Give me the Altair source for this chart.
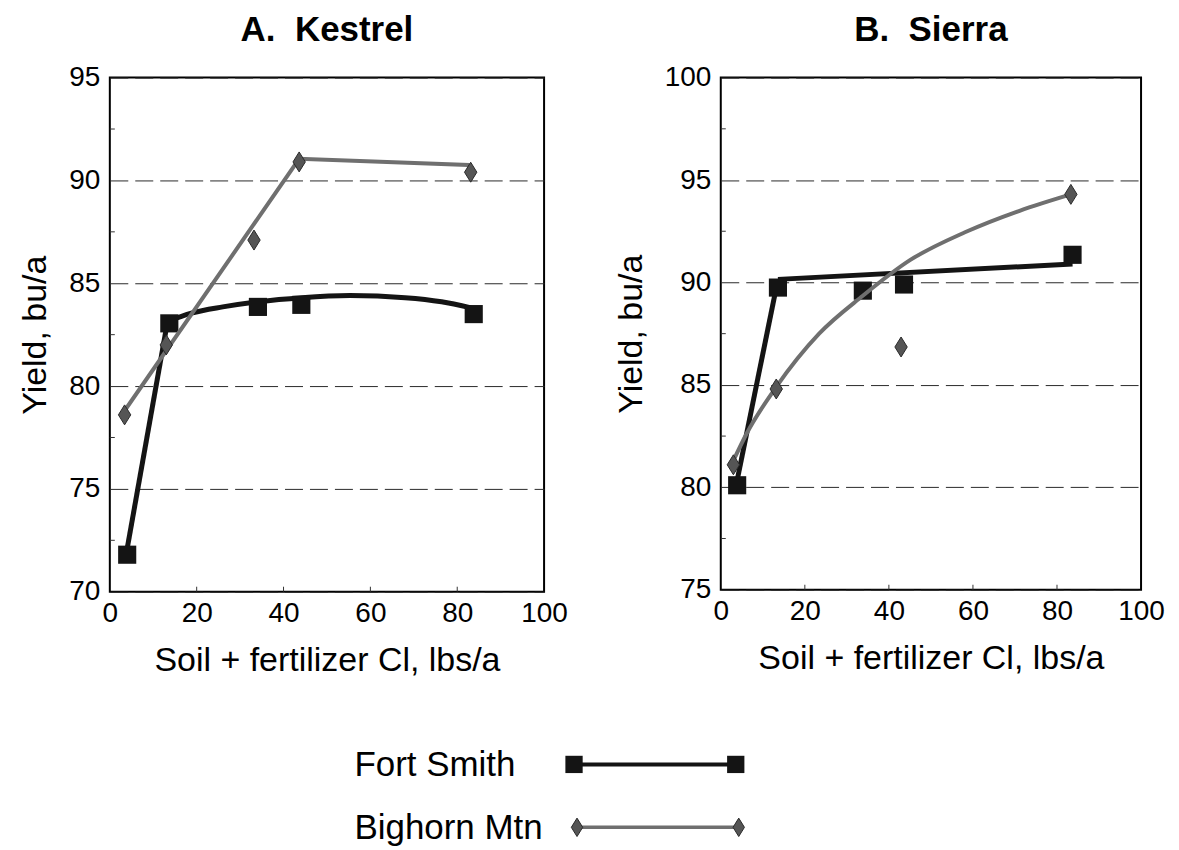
import altair as alt
import pandas as pd

FONT = "Liberation Sans"
SERIES = ["Fort Smith", "Bighorn Mtn"]
X_TITLE = "Soil + fertilizer Cl, lbs/a"
Y_TITLE = "Yield, bu/a"
X_TICKS = [0, 20, 40, 60, 80, 100]
X_MINOR = [20, 40, 60, 80]

# ---- Panel A: Kestrel ----
A_TITLE = "A.\u00a0 Kestrel"
A_YDOM = [70, 95]
A_YTICKS = [70, 75, 80, 85, 90, 95]
A_YMINOR = [72.5, 77.5, 82.5, 87.5, 92.5]
A_FS_X = [4.0, 13.7, 34.1, 44.1, 83.8]
A_FS_Y = [71.8, 83.05, 83.85, 83.95, 83.5]
A_BH_X = [3.4, 13.0, 33.2, 43.6, 83.1]
A_BH_Y = [78.6, 82.0, 87.1, 90.9, 90.4]
# fitted response: linear rise, then a quadratic plateau
A_FS_RISE_X = [4.0, 13.3]
A_FS_RISE_Y = [72.1, 83.15]
A_FS_CURVE_X = [13.3, 18.8, 26.0, 34.1, 44.2, 55.3, 68.0, 76.4, 83.2]
A_FS_CURVE_Y = [83.15, 83.55, 83.85, 84.1, 84.3, 84.4, 84.3, 84.1, 83.8]
A_BH_FIT_X = [3.4, 43.6, 82.5, 83.1]
A_BH_FIT_Y = [78.8, 91.05, 90.75, 90.45]

# ---- Panel B: Sierra ----
B_TITLE = "B.\u00a0 Sierra"
B_YDOM = [75, 100]
B_YTICKS = [75, 80, 85, 90, 95, 100]
B_YMINOR = [77.5, 82.5, 87.5, 92.5, 97.5]
B_FS_X = [3.9, 13.6, 33.8, 43.6, 83.7]
B_FS_Y = [80.1, 89.75, 89.6, 89.9, 91.35]
B_BH_X = [3.0, 13.2, 42.9, 83.3]
B_BH_Y = [81.1, 84.8, 86.85, 94.3]
B_FS_RISE_X = [3.9, 13.6]
B_FS_RISE_Y = [80.35, 90.15]
B_FS_CURVE_X = [13.6, 83.7]
B_FS_CURVE_Y = [90.15, 90.9]
B_BH_FIT_X = [3.0, 6.1, 13.2, 23.4, 33.8, 45.1, 58.1, 71.1, 83.3]
B_BH_FIT_Y = [81.3, 82.6, 84.9, 87.5, 89.35, 91.1, 92.45, 93.5, 94.3]

FS_COLOR = "#141414"
BH_COLOR = "#6f6f6f"
BH_PT_COLOR = "#555555"
DIAMOND = "M-0.62,0L0,-1L0.62,0L0,1Z"


def df(xs, ys):
    return pd.DataFrame({"x": xs, "y": ys})


def panel(title, ydom, yticks, yminor, fs, bh, fs_rise, fs_curve, bh_fit, bh_interp,
          width, height, legend=False):
    xscale = alt.Scale(domain=[0, 100], nice=False)
    yscale = alt.Scale(domain=ydom, nice=False, zero=False)
    xaxis = alt.Axis(values=X_TICKS, title=X_TITLE, grid=False, ticks=False, domain=False,
                     labelFontSize=28, titleFontSize=34, labelPadding=8, titlePadding=16,
                     labelFont=FONT, titleFont=FONT, titleFontWeight="normal",
                     labelColor="black", titleColor="black", labelFlush=False)
    yaxis = alt.Axis(values=yticks, title=Y_TITLE, grid=True, gridDash=[18, 7],
                     gridColor="#2a2a2a", gridWidth=1, ticks=False, domain=False,
                     labelFontSize=28, titleFontSize=34, labelPadding=10, titlePadding=16,
                     labelFont=FONT, titleFont=FONT, titleFontWeight="normal",
                     labelColor="black", titleColor="black", labelFlush=False)

    def X(f="x"):
        return alt.X(f"{f}:Q", scale=xscale, axis=xaxis)

    def Y(f="y"):
        return alt.Y(f"{f}:Q", scale=yscale, axis=yaxis)

    fs_line1 = alt.Chart(fs_rise).mark_line(color=FS_COLOR, strokeWidth=5).encode(x=X(), y=Y())
    fs_line2 = alt.Chart(fs_curve).mark_line(color=FS_COLOR, strokeWidth=5,
                                             interpolate="monotone").encode(x=X(), y=Y())
    fs_pts = alt.Chart(fs).mark_point(shape="square", filled=True, size=330, opacity=1,
                                      color=FS_COLOR).encode(x=X(), y=Y())
    bh_line = alt.Chart(bh_fit).mark_line(color=BH_COLOR, strokeWidth=4,
                                          interpolate=bh_interp).encode(x=X(), y=Y())
    bh_pts = alt.Chart(bh).mark_point(shape=DIAMOND, filled=True, size=400, opacity=1,
                                      color=BH_PT_COLOR, stroke="#2a2a2a", strokeWidth=1
                                      ).encode(x=X(), y=Y())
    ymin = alt.Chart(pd.DataFrame({"y": yminor})).mark_rule(color="#333", strokeWidth=1).encode(
        y=Y(), x=alt.value(0), x2=alt.value(5))
    xmin = alt.Chart(pd.DataFrame({"x": X_MINOR})).mark_rule(color="#333", strokeWidth=1).encode(
        x=X(), y=alt.value(height), y2=alt.value(height - 5))

    layers = [fs_line1, ymin, xmin, fs_line2, fs_pts, bh_line, bh_pts]

    if legend:
        leg = pd.DataFrame({"series": SERIES})
        rows = [(SERIES[0], 700, 688), (SERIES[1], 763, 751)]
        for name, ty, ly in rows:
            layers.append(
                alt.Chart(leg).transform_filter(alt.datum.series == name)
                .mark_text(align="left", baseline="alphabetic", fontSize=35, font=FONT,
                           color="black")
                .encode(x=alt.value(245), y=alt.value(ty), text="series:N"))
        # Fort Smith legend symbol
        layers.append(alt.Chart(leg).transform_filter(alt.datum.series == SERIES[0])
                      .mark_rule(color=FS_COLOR, strokeWidth=4)
                      .encode(x=alt.value(465), x2=alt.value(627), y=alt.value(688)))
        for px in (465, 627):
            layers.append(alt.Chart(leg).transform_filter(alt.datum.series == SERIES[0])
                          .mark_point(shape="square", filled=True, size=300, opacity=1,
                                      color=FS_COLOR)
                          .encode(x=alt.value(px), y=alt.value(688)))
        # Bighorn legend symbol
        layers.append(alt.Chart(leg).transform_filter(alt.datum.series == SERIES[1])
                      .mark_rule(color=BH_COLOR, strokeWidth=3.5)
                      .encode(x=alt.value(468), x2=alt.value(630), y=alt.value(751)))
        for px in (468, 630):
            layers.append(alt.Chart(leg).transform_filter(alt.datum.series == SERIES[1])
                          .mark_point(shape=DIAMOND, filled=True, size=340, opacity=1,
                                      color=BH_PT_COLOR, stroke="#2a2a2a", strokeWidth=1)
                          .encode(x=alt.value(px), y=alt.value(751)))

    return alt.layer(*layers).properties(
        width=width, height=height,
        title=alt.TitleParams(title, fontSize=35, fontWeight="bold", font=FONT,
                              anchor="middle", offset=16, color="black"))


panel_a = panel(A_TITLE, A_YDOM, A_YTICKS, A_YMINOR,
                df(A_FS_X, A_FS_Y), df(A_BH_X, A_BH_Y),
                df(A_FS_RISE_X, A_FS_RISE_Y), df(A_FS_CURVE_X, A_FS_CURVE_Y),
                df(A_BH_FIT_X, A_BH_FIT_Y), "linear", 435, 515, legend=True)
panel_b = panel(B_TITLE, B_YDOM, B_YTICKS, B_YMINOR,
                df(B_FS_X, B_FS_Y), df(B_BH_X, B_BH_Y),
                df(B_FS_RISE_X, B_FS_RISE_Y), df(B_FS_CURVE_X, B_FS_CURVE_Y),
                df(B_BH_FIT_X, B_BH_FIT_Y), "monotone", 421, 513)

chart = alt.hconcat(panel_a, panel_b, spacing=177, bounds="flush").properties(
    padding={"left": 9, "top": 3, "right": 5, "bottom": 5},
    background="white",
).configure_view(stroke="black", strokeWidth=2)

chart.save("out.html", embed_options={"renderer": "svg", "actions": False})
